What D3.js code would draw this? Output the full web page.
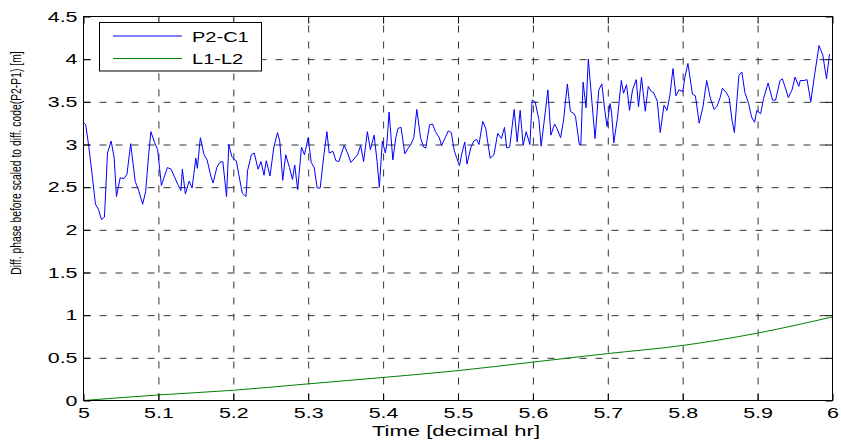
<!DOCTYPE html>
<html><head><meta charset="utf-8">
<script src="https://cdn.jsdelivr.net/npm/d3@7"></script>
<style>html,body{margin:0;padding:0;background:#fff;} svg{display:block;font-family:"Liberation Sans",Arial,Helvetica,sans-serif;}</style>
</head><body><svg id="c" width="841" height="442"></svg>
<script>
const times = [
5.001,5.003,5.007,5.012,5.016,5.020,5.024,5.028,5.032,5.037,
5.041,5.044,5.049,5.054,5.058,5.063,5.069,5.074,5.079,5.083,
5.087,5.090,5.095,5.099,5.104,5.107,5.112,5.117,5.121,5.126,
5.130,5.132,5.136,5.141,5.145,5.150,5.152,5.156,5.161,5.165,
5.170,5.173,5.178,5.182,5.186,5.191,5.194,5.198,5.202,
5.204,5.209,5.212,5.217,5.219,5.224,5.228,5.233,5.237,5.241,
5.244,5.249,5.254,5.259,5.262,5.266,5.270,5.275,5.279,5.282,
5.286,5.291,5.295,5.300,5.304,5.308,5.312,5.316,5.321,5.325,
5.328,5.333,5.337,5.341,5.348,5.353,5.357,5.362,5.366,5.370,
5.374,5.379,5.383,5.388,5.392,5.395,5.399,5.403,
5.405,5.408,5.413,5.417,5.420,5.424,5.429,5.433,5.437,5.441,
5.445,5.450,5.454,5.457,5.462,5.466,5.470,5.475,5.478,5.483,
5.487,5.491,5.495,5.498,5.502,5.505,5.509,5.512,5.517,5.521,
5.525,5.528,5.533,5.537,5.540,5.543,5.548,5.553,5.558,5.562,
5.565,5.569,5.575,5.579,5.583,5.587,5.591,5.596,5.599,5.603,
5.608,5.611,5.615,5.620,5.624,5.629,5.632,5.637,5.641,5.646,
5.650,5.655,5.657,5.662,5.664,5.667,5.671,5.674,5.679,5.683,
5.688,5.692,5.696,5.699,5.703,5.705,5.708,5.713,5.718,5.721,
5.725,5.729,5.733,5.738,5.741,5.745,5.750,5.754,5.758,5.761,
5.766,5.770,5.775,5.779,5.783,5.787,5.791,5.795,5.800,5.803,
5.807,5.813,5.817,5.822,5.827,5.832,5.837,5.842,5.846,5.850,
5.853,5.858,5.862,5.866,5.869,5.875,5.879,5.883,5.888,5.892,
5.896,5.899,5.904,5.908,5.914,5.920,5.924,5.930,5.933,5.938,
5.941,5.946,5.950,5.955,5.957,5.962,5.966,5.971,5.976,5.982,
5.987,5.992,5.996
];
const p2c1 = [
3.25,3.23,2.98,2.61,2.30,2.24,2.12,2.15,2.90,3.04,
2.84,2.39,2.61,2.60,2.65,3.01,2.57,2.45,2.30,2.45,
2.88,3.15,3.02,2.94,2.52,2.60,2.73,2.71,2.63,2.53,
2.46,2.71,2.42,2.57,2.49,2.84,2.72,3.08,2.88,2.82,
2.63,2.55,2.73,2.79,2.80,2.39,3.00,2.86,2.82,
2.81,2.57,2.43,2.39,2.69,2.88,2.90,2.71,2.80,2.64,
2.81,2.63,2.96,3.14,3.04,2.58,2.88,2.73,2.59,2.76,
2.47,2.97,2.88,3.08,2.79,2.73,2.49,2.49,2.88,3.15,
2.90,2.92,2.81,2.80,2.99,2.89,2.79,2.84,2.88,2.99,
2.80,3.15,2.94,3.11,2.80,2.50,3.04,2.90,
3.01,3.38,2.82,3.08,3.19,3.20,2.89,2.95,3.00,3.08,
3.41,3.08,2.97,2.96,3.23,3.24,3.15,3.08,2.99,3.08,
3.16,3.14,2.93,2.85,2.75,2.89,3.03,2.77,2.96,3.04,
3.06,3.00,3.27,3.19,3.01,2.84,2.88,3.13,3.07,3.20,
2.96,2.97,3.41,3.03,3.40,2.99,3.15,3.00,3.52,3.50,
3.29,2.98,3.27,3.64,3.11,3.24,3.19,3.08,3.29,3.71,
3.39,3.36,3.32,3.00,3.00,3.73,3.43,4.00,3.48,3.07,
3.64,3.71,3.40,3.21,3.48,3.38,3.02,3.32,3.75,3.60,
3.70,3.40,3.64,3.76,3.44,3.79,3.39,3.68,3.62,3.61,
3.51,3.14,3.46,3.40,3.58,3.89,3.57,3.64,3.62,3.79,
3.95,3.59,3.57,3.25,3.44,3.75,3.54,3.41,3.45,3.55,
3.66,3.61,3.55,3.28,3.14,3.81,3.85,3.61,3.48,3.32,
3.26,3.40,3.36,3.54,3.72,3.52,3.52,3.75,3.77,3.64,
3.55,3.64,3.79,3.68,3.75,3.75,3.76,3.50,3.81,4.16,
4.05,3.77,4.06
];
const l1l2Times = [5.0,5.1,5.2,5.3,5.4,5.5,5.6,5.7,5.8,5.9,6.0];
const l1l2 = [0,0.065,0.12,0.195,0.27,0.35,0.45,0.55,0.645,0.79,0.98];
const xTicks = [5,5.1,5.2,5.3,5.4,5.5,5.6,5.7,5.8,5.9,6];
const xTickLabels = ["5","5.1","5.2","5.3","5.4","5.5","5.6","5.7","5.8","5.9","6"];
const yTicks = [0,0.5,1,1.5,2,2.5,3,3.5,4,4.5];
const yTickLabels = ["0","0.5","1","1.5","2","2.5","3","3.5","4","4.5"];
const seriesNames = ["P2-C1","L1-L2"];
const seriesColors = ["#0000ff","#008000"];
const xTitle = "Time [decimal hr]";
const yTitle = "Diff. phase before scaled to diff. code(P2-P1) [m]";

const L=83.5, R=832.5, T=16.5, B=400.5;
const SX=1.48, FS=14.5;
const svg=d3.select("#c");
const x=d3.scaleLinear().domain([5,6]).range([L,R]);
const y=d3.scaleLinear().domain([0,4.5]).range([B,T]);

svg.append("rect").attr("x",L).attr("y",T).attr("width",R-L).attr("height",B-T).attr("fill","#fff");

// grid
const gxg = svg.append("g").attr("transform",`translate(0,${B})`)
  .call(d3.axisBottom(x).tickValues(xTicks.slice(1,-1)).tickSize(-(B-T)).tickFormat(""));
gxg.select(".domain").remove();
gxg.selectAll("line").attr("stroke","#333").attr("stroke-dasharray","7,9");
const gyg = svg.append("g").attr("transform",`translate(${L},0)`)
  .call(d3.axisLeft(y).tickValues(yTicks.slice(1,-1)).tickSize(-(R-L)).tickFormat(""));
gyg.select(".domain").remove();
gyg.selectAll("line").attr("stroke","#333").attr("stroke-dasharray","7,9");

// series
const lineBlue = d3.line().x((d,i)=>x(times[i])).y(d=>y(d));
svg.append("path").datum(p2c1).attr("d",lineBlue).attr("fill","none")
  .attr("stroke",seriesColors[0]).attr("stroke-width",1).attr("stroke-linejoin","round");
const lineGreen = d3.line().x((d,i)=>x(l1l2Times[i])).y(d=>y(d)).curve(d3.curveMonotoneX);
svg.append("path").datum(l1l2).attr("d",lineGreen).attr("fill","none")
  .attr("stroke",seriesColors[1]).attr("stroke-width",1);

// axes (ticks inside, box)
function styleAxis(g){
  g.attr("font-family",null).attr("font-size",FS);
  g.select(".domain").remove();
  g.selectAll("line").attr("stroke","#000");
  g.selectAll("text").attr("fill","#000");
}
const ax = svg.append("g").attr("transform",`translate(0,${B})`)
  .call(d3.axisBottom(x).tickValues(xTicks).tickSizeInner(-7).tickSizeOuter(0).tickPadding(7.5).tickFormat((d,i)=>xTickLabels[i]));
styleAxis(ax); ax.selectAll("text").attr("transform",`scale(${SX},1)`);
const axT = svg.append("g").attr("transform",`translate(0,${T})`)
  .call(d3.axisTop(x).tickValues(xTicks).tickSizeInner(-7).tickSizeOuter(0).tickFormat(""));
styleAxis(axT);
const ay = svg.append("g").attr("transform",`translate(${L},0)`)
  .call(d3.axisLeft(y).tickValues(yTicks).tickSizeInner(-7).tickSizeOuter(0).tickPadding(6/SX).tickFormat((d,i)=>yTickLabels[i]));
styleAxis(ay); ay.selectAll("text").attr("transform",`scale(${SX},1)`);
const ayR = svg.append("g").attr("transform",`translate(${R},0)`)
  .call(d3.axisRight(y).tickValues(yTicks).tickSizeInner(-7).tickSizeOuter(0).tickFormat(""));
styleAxis(ayR);

// frame
svg.append("rect").attr("x",L).attr("y",T).attr("width",R-L).attr("height",B-T)
  .attr("fill","none").attr("stroke","#000").attr("stroke-width",1);

// titles
svg.append("text").attr("transform",`translate(${(L+R)/2-2},436) scale(1.47,1)`)
  .attr("text-anchor","middle").attr("font-size",15).attr("fill","#000").text(xTitle);
svg.append("text").attr("transform",`translate(21,163) rotate(-90) scale(0.74,1)`)
  .attr("text-anchor","middle").attr("font-size",14).attr("fill","#000").text(yTitle);

// legend
const lg = svg.append("g");
lg.append("rect").attr("x",99.5).attr("y",22.5).attr("width",162).attr("height",48.5)
  .attr("fill","#fff").attr("stroke","#000").attr("stroke-width",1);
const rowsY=[36,58.5], textY=[41.5,64];
seriesNames.forEach((n,i)=>{
  lg.append("line").attr("x1",113).attr("x2",182).attr("y1",rowsY[i]).attr("y2",rowsY[i])
    .attr("stroke",seriesColors[i]).attr("stroke-width",1);
  lg.append("text").attr("transform",`translate(192,${textY[i]}) scale(1.38,1)`)
    .attr("font-size",14.5).attr("fill","#000").text(n);
});
</script></body></html>
